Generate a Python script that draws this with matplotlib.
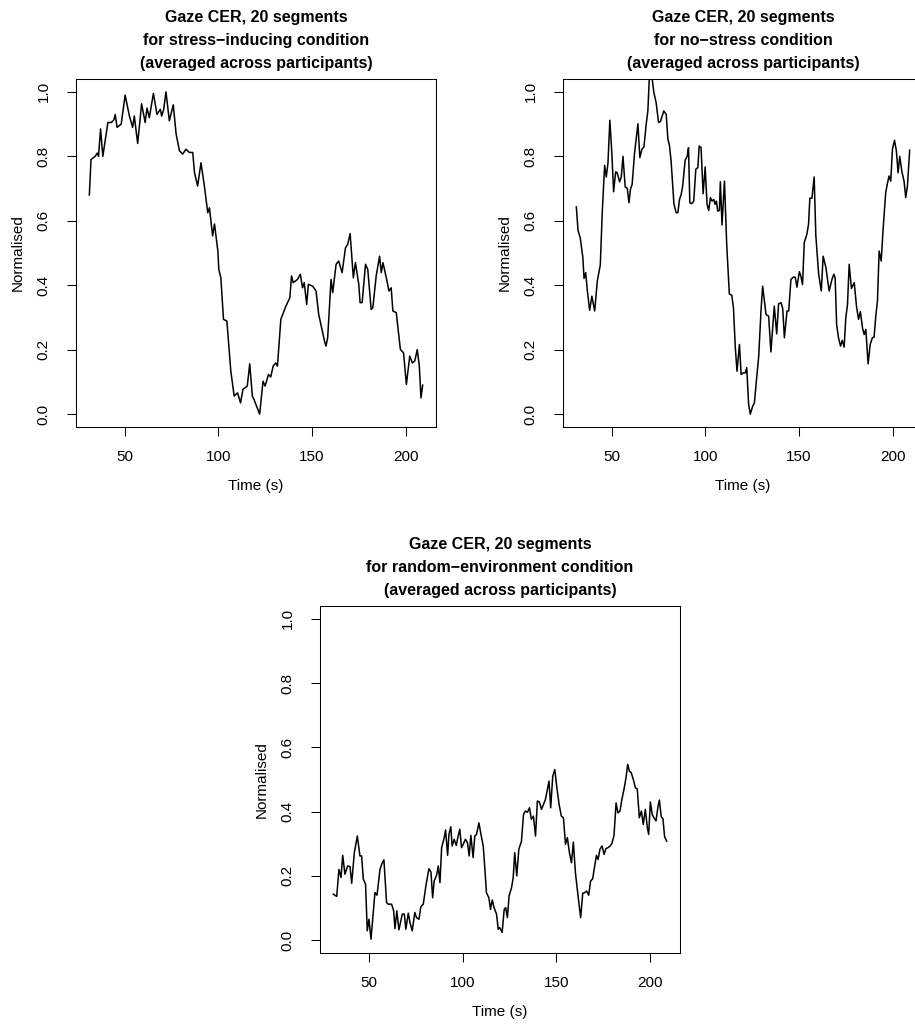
import numpy as np
import matplotlib
matplotlib.use("Agg")
import matplotlib.pyplot as plt

plt.rcParams['font.family'] = ['Liberation Sans', 'DejaVu Sans']

# stress-inducing condition
stress_t = [31.2, 32.1, 34.3, 35.4, 36.1, 37.2, 38.4, 41.1, 42.9, 44.3, 45.0, 46.0, 48.2, 50.3,
            52.6, 54.3, 55.2, 57.0, 59.1, 61.0, 62.0, 63.2, 65.4, 67.3, 69.1, 69.8, 70.9, 72.1,
            73.9, 76.0, 77.5, 79.3, 81.0, 82.8, 84.6, 86.4, 87.3, 89.0, 90.8, 92.6, 94.4, 95.3,
            97.0, 98.0, 99.8, 100.3, 101.4, 102.8, 104.6, 106.7, 108.5, 110.3, 111.9, 113.2,
            115.5, 116.8, 118.2, 119.1, 122.1, 123.9, 125.0, 126.8, 128.0, 129.3, 130.7, 131.6,
            133.4, 136.1, 138.2, 139.1, 140.0, 142.3, 143.8, 145.0, 145.9, 147.2, 148.1, 150.4,
            152.2, 153.6, 156.7, 157.5, 158.4, 160.2, 161.1, 162.9, 164.3, 166.1, 167.9, 169.1,
            170.4, 172.1, 173.2, 175.0, 175.7, 176.8, 178.6, 179.8, 181.6, 182.5, 184.3, 186.1,
            187.0, 187.9, 189.7, 191.1, 192.3, 193.2, 195.0, 197.2, 198.9, 200.4, 202.2, 203.6,
            204.9, 206.2, 207.3, 208.2, 209.1]
stress_v = [0.68, 0.79, 0.80, 0.81, 0.80, 0.885, 0.80, 0.905, 0.905, 0.913, 0.93, 0.89, 0.90, 0.99,
            0.925, 0.89, 0.925, 0.84, 0.963, 0.905, 0.95, 0.92, 0.995, 0.93, 0.946, 0.925, 0.946, 1.0,
            0.91, 0.96, 0.87, 0.817, 0.807, 0.822, 0.812, 0.812, 0.75, 0.708, 0.78, 0.708, 0.625, 0.64,
            0.553, 0.59, 0.506, 0.449, 0.423, 0.294, 0.289, 0.134, 0.056, 0.066, 0.035, 0.077,
            0.087, 0.156, 0.056, 0.045, 0.0, 0.102, 0.087, 0.123, 0.115, 0.149, 0.159, 0.149,
            0.294, 0.335, 0.361, 0.429, 0.408, 0.418, 0.434, 0.392, 0.408, 0.340, 0.403, 0.397,
            0.382, 0.310, 0.227, 0.211, 0.237, 0.418, 0.377, 0.465, 0.475, 0.439, 0.516, 0.527,
            0.56, 0.423, 0.47, 0.403, 0.346, 0.346, 0.465, 0.449, 0.325, 0.330, 0.429, 0.49,
            0.439, 0.47, 0.423, 0.382, 0.392, 0.320, 0.315, 0.201, 0.190, 0.092, 0.180, 0.159,
            0.165, 0.2, 0.15, 0.05, 0.09]

# no-stress condition
nostress_t = [31.1, 32.0, 33.2, 34.6, 35.2, 36.1, 37.0, 38.2, 39.4, 40.9, 42.3, 43.9, 44.9, 46.2,
              47.1, 48.0, 49.0, 50.1, 51.0, 52.1, 52.9, 54.2, 55.1, 56.0, 57.2, 58.3, 59.2, 60.0,
              60.9, 62.2, 64.0, 65.0, 66.1, 67.2, 68.4, 69.3, 70.2, 71.4, 72.5, 73.7, 75.0, 76.0,
              77.8, 79.1, 80.0, 80.8, 81.7, 83.2, 84.4, 85.3, 86.2, 87.1, 87.9, 89.2, 90.3, 91.0,
              91.7, 92.7, 93.8, 94.9, 96.0, 96.7, 97.7, 98.8, 99.9, 100.9, 101.8, 102.7, 103.6,
              104.5, 105.2, 105.9, 106.6, 107.5, 108.0, 108.9, 110.2, 111.4, 112.8, 114.1, 115.0,
              116.0, 116.9, 118.2, 119.1, 120.3, 121.4, 122.1, 123.1, 124.0, 125.3, 126.2, 127.4,
              128.5, 129.7, 130.6, 132.4, 133.8, 135.0, 136.8, 138.1, 139.1, 140.4, 141.3, 142.2,
              143.6, 144.5, 145.7, 147.0, 148.0, 148.9, 150.2, 151.0, 151.9, 152.8, 154.2, 155.1,
              155.8, 156.9, 158.1, 159.0, 160.5, 161.9, 162.9, 164.4, 166.1, 167.6, 168.6, 169.3,
              170.1, 171.1, 172.2, 173.1, 174.1, 175.0, 175.9, 176.8, 178.0, 179.5, 180.7, 181.8,
              182.8, 183.9, 184.8, 185.7, 186.9, 188.0, 189.2, 190.1, 191.0, 191.9, 192.8, 193.9,
              194.9, 196.3, 197.2, 198.1, 199.0, 199.9, 201.0, 202.0, 202.9, 203.8, 204.9, 206.1,
              207.0, 207.9, 209.1]
nostress_v = [0.643, 0.570, 0.547, 0.485, 0.421, 0.439, 0.382, 0.322, 0.366, 0.320, 0.413, 0.463,
              0.62, 0.772, 0.736, 0.78, 0.912, 0.806, 0.69, 0.752, 0.749, 0.721, 0.736, 0.8, 0.705,
              0.701, 0.656, 0.698, 0.713, 0.811, 0.901, 0.796, 0.822, 0.829, 0.899, 0.941, 1.06,
              1.05, 0.998, 0.967, 0.905, 0.908, 0.941, 0.93, 0.853, 0.835, 0.786, 0.653, 0.625,
              0.625, 0.666, 0.682, 0.708, 0.788, 0.8, 0.827, 0.656, 0.653, 0.661, 0.76, 0.765,
              0.832, 0.827, 0.684, 0.767, 0.651, 0.632, 0.672, 0.661, 0.666, 0.651, 0.661, 0.63,
              0.632, 0.721, 0.587, 0.723, 0.527, 0.373, 0.369, 0.33, 0.206, 0.133, 0.216, 0.123,
              0.128, 0.128, 0.144, 0.03, 0.0, 0.025, 0.035, 0.113, 0.18, 0.32, 0.397, 0.309,
              0.304, 0.193, 0.335, 0.249, 0.342, 0.346, 0.328, 0.237, 0.32, 0.32, 0.418, 0.425,
              0.425, 0.394, 0.442, 0.428, 0.402, 0.532, 0.558, 0.589, 0.67, 0.67, 0.736, 0.553,
              0.434, 0.382, 0.49, 0.454, 0.382, 0.418, 0.434, 0.423, 0.278, 0.237, 0.211, 0.229,
              0.208, 0.299, 0.34, 0.465, 0.39, 0.408, 0.335, 0.294, 0.318, 0.268, 0.247, 0.263,
              0.156, 0.216, 0.237, 0.239, 0.304, 0.351, 0.506, 0.475, 0.573, 0.687, 0.715, 0.739,
              0.723, 0.822, 0.85, 0.817, 0.749, 0.8, 0.754, 0.723, 0.672, 0.708, 0.819]

# random-environment condition
random_t = [30.9, 32.7, 33.9, 35.0, 35.9, 37.1, 38.5, 39.8, 40.7, 42.1, 43.7, 45.1, 46.0, 46.9,
            48.1, 49.0, 49.9, 51.0, 53.1, 54.2, 55.8, 56.7, 57.9, 59.3, 60.2, 62.0, 63.1, 63.8,
            64.8, 65.9, 67.7, 68.8, 69.6, 70.9, 71.8, 73.0, 74.4, 75.3, 76.6, 77.6, 78.9, 80.3,
            81.9, 83.0, 83.9, 84.7, 86.0, 86.9, 87.8, 88.7, 90.1, 90.8, 91.9, 92.6, 93.6, 94.3,
            95.4, 96.5, 97.5, 98.4, 99.3, 100.2, 101.4, 102.5, 103.4, 104.3, 105.5, 106.4, 107.3,
            108.6, 109.6, 110.9, 111.8, 112.6, 113.9, 114.8, 115.7, 116.7, 118.0, 118.9, 119.7,
            121.0, 122.1, 122.9, 123.8, 124.7, 126.0, 126.9, 127.7, 128.8, 129.9, 131.3, 132.4,
            133.4, 134.5, 135.6, 136.6, 137.7, 138.8, 139.8, 140.9, 142.0, 143.0, 144.1, 145.2,
            146.0, 146.9, 148.0, 149.1, 150.1, 151.4, 152.6, 153.7, 154.8, 155.8, 156.9, 158.0,
            159.0, 160.1, 161.5, 162.9, 164.0, 165.1, 166.1, 167.2, 168.2, 169.3, 170.4, 171.3,
            172.2, 173.2, 174.3, 175.4, 176.4, 177.5, 178.6, 179.6, 180.7, 181.8, 182.8, 183.9,
            184.9, 186.0, 187.1, 188.0, 188.9, 189.9, 191.0, 192.1, 193.1, 194.2, 195.3, 196.3,
            197.4, 198.5, 199.2, 200.1, 201.1, 202.0, 203.1, 204.2, 204.9, 205.9, 206.8, 207.7,
            208.8]
random_v = [0.143, 0.136, 0.22, 0.195, 0.264, 0.205, 0.231, 0.229, 0.177, 0.272, 0.324, 0.262,
            0.262, 0.19, 0.174, 0.029, 0.065, 0.003, 0.148, 0.14, 0.22, 0.236, 0.25, 0.117, 0.112,
            0.112, 0.091, 0.036, 0.091, 0.032, 0.081, 0.081, 0.034, 0.084, 0.055, 0.029, 0.086,
            0.07, 0.065, 0.104, 0.112, 0.169, 0.222, 0.212, 0.132, 0.184, 0.202, 0.231, 0.179,
            0.288, 0.319, 0.343, 0.264, 0.329, 0.353, 0.293, 0.314, 0.295, 0.324, 0.345, 0.288,
            0.298, 0.314, 0.303, 0.262, 0.326, 0.257, 0.324, 0.329, 0.365, 0.332, 0.293, 0.22,
            0.148, 0.132, 0.096, 0.125, 0.101, 0.081, 0.034, 0.039, 0.024, 0.096, 0.101, 0.07,
            0.138, 0.163, 0.195, 0.272, 0.2, 0.283, 0.308, 0.391, 0.402, 0.398, 0.412, 0.376,
            0.386, 0.324, 0.433, 0.43, 0.407, 0.422, 0.438, 0.471, 0.495, 0.412, 0.51, 0.531,
            0.479, 0.422, 0.386, 0.381, 0.298, 0.319, 0.272, 0.241, 0.305, 0.21, 0.138, 0.07,
            0.146, 0.148, 0.153, 0.14, 0.184, 0.191, 0.231, 0.264, 0.251, 0.283, 0.293, 0.267,
            0.285, 0.288, 0.293, 0.301, 0.326, 0.427, 0.396, 0.402, 0.438, 0.469, 0.505, 0.547,
            0.526, 0.521, 0.5, 0.474, 0.471, 0.381, 0.402, 0.36, 0.407, 0.35, 0.329, 0.43,
            0.391, 0.381, 0.371, 0.417, 0.436, 0.384, 0.378, 0.322, 0.308]

titles = ["Gaze CER, 20 segments\nfor stress\u2212inducing condition\n(averaged across participants)",
          "Gaze CER, 20 segments\nfor no\u2212stress condition\n(averaged across participants)",
          "Gaze CER, 20 segments\nfor random\u2212environment condition\n(averaged across participants)"]
series = [(stress_t, stress_v), (nostress_t, nostress_v), (random_t, random_v)]
yticks = [0.0, 0.2, 0.4, 0.6, 0.8, 1.0]
xticks = [50, 100, 150, 200]

W, H = 915, 1025
# axes boxes in pixels: left, top, width, height
boxes = [(76, 79, 360, 348), (563, 79, 360, 348), (320, 606, 360, 347)]

fig = plt.figure(figsize=(W / 100, H / 100), dpi=100)

for (t, v), title, (l, tp, w, h) in zip(series, titles, boxes):
    ax = fig.add_axes([l / W, 1 - (tp + h) / H, w / W, h / H])
    ax.plot(t, v, color='black', lw=1.1)
    rng = max(t) - min(t)
    ax.set_xlim(min(t) - 0.04 * rng, max(t) + 0.04 * rng)
    ax.set_ylim(-0.04, 1.04)
    ax.set_xticks(xticks)
    ax.set_yticks(yticks)
    ax.set_yticklabels(["%.1f" % y for y in yticks], rotation=90, va='center')
    ax.tick_params(direction='out', length=6.7, width=0.75, labelsize=11, color='black')
    ax.tick_params(axis='x', pad=10)
    ax.tick_params(axis='y', pad=11.5)
    ax.set_xlabel("Time (s)", fontsize=11, labelpad=11)
    ax.set_ylabel("Normalised", fontsize=11, labelpad=8.5)
    ax.set_title(title, fontsize=11.5, fontweight='bold', linespacing=1.65, pad=8)
    for sp in ax.spines.values():
        sp.set_linewidth(0.75)

fig.savefig("out.png", dpi=100)
